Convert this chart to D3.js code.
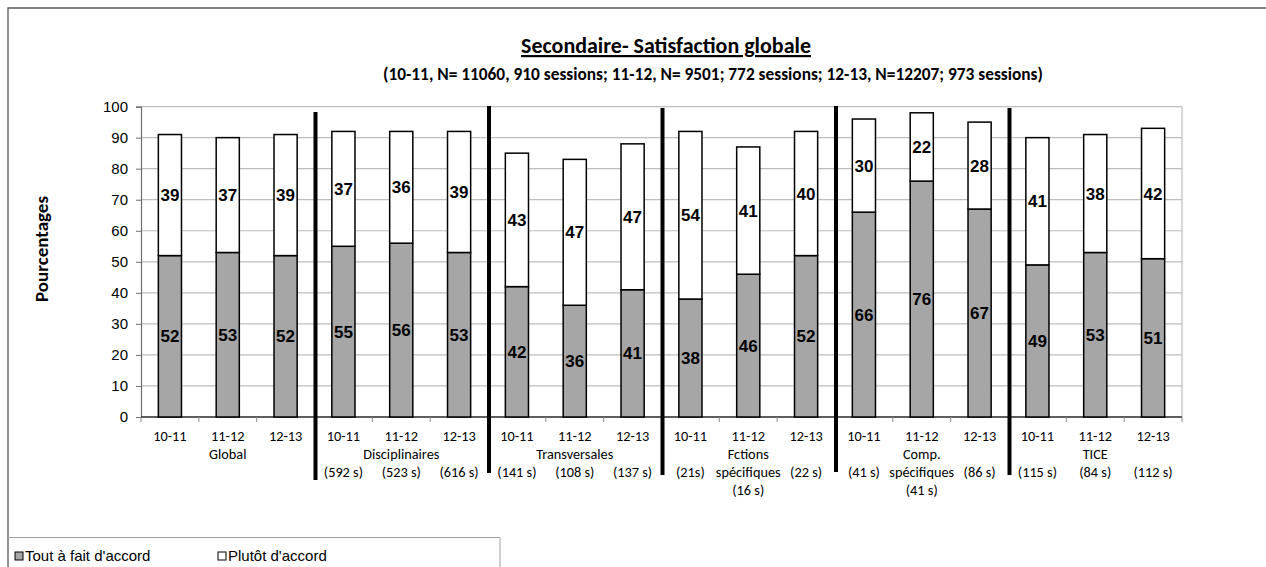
<!DOCTYPE html>
<html>
<head>
<meta charset="utf-8">
<script src="https://cdn.jsdelivr.net/npm/d3@7"></script>
<style>
  html, body { margin: 0; padding: 0; background: #fff; }
  svg { display: block; }
</style>
</head>
<body>
<svg id="chart" width="1266" height="567"></svg>
<script>
// Survey years for each bar, grouped by training type
const years = ["10-11", "11-12", "12-13"];
const groups = ["Global", "Disciplinaires", "Transversales", "Fctions spécifiques", "Comp. spécifiques", "TICE"];
// Group captions as they wrap under the axis
const groupLines = [["Global"], ["Disciplinaires"], ["Transversales"], ["Fctions", "spécifiques"], ["Comp.", "spécifiques"], ["TICE"]];
// Number of sessions per bar
const sessions = [
  "", "", "",
  "(592 s)", "(523 s)", "(616 s)",
  "(141 s)", "(108 s)", "(137 s)",
  "(21s)", "(16 s)", "(22 s)",
  "(41 s)", "(41 s)", "(86 s)",
  "(115 s)", "(84 s)", "(112 s)"
];
// Percentages: "Tout à fait d'accord" and "Plutôt d'accord"
const toutAFait = [52, 53, 52, 55, 56, 53, 42, 36, 41, 38, 46, 52, 66, 76, 67, 49, 53, 51];
const plutot    = [39, 37, 39, 37, 36, 39, 43, 47, 47, 54, 41, 40, 30, 22, 28, 41, 38, 42];
const seriesNames = ["Tout à fait d'accord", "Plutôt d'accord"];
const yTicks = [0, 10, 20, 30, 40, 50, 60, 70, 80, 90, 100];

const title = "Secondaire- Satisfaction globale";
const subtitle = "(10-11, N= 11060, 910 sessions; 11-12, N= 9501; 772 sessions; 12-13, N=12207; 973 sessions)";
const yTitle = "Pourcentages";

const svg = d3.select("#chart");
const plot = { left: 141, right: 1182, top: 106.6, bottom: 417 };
const calibri = "Carlito, 'Open Sans', Lato, sans-serif";
const arial = "'Liberation Sans', Arial, sans-serif";

// one row per bar
const rows = groups.flatMap((g, gi) => years.map((yr, yi) => {
  const i = gi * years.length + yi;
  return { id: i, group: gi, yi, year: yr, session: sessions[i], a: toutAFait[i], b: plutot[i] };
}));

const x = d3.scaleBand()
  .domain(rows.map(d => d.id))
  .range([plot.left, plot.right])
  .paddingInner(0.6)
  .paddingOuter(0.3);
const step = x.step();
const y = d3.scaleLinear().domain([0, 100]).range([plot.bottom, plot.top]);

// outer frame of the chart area
svg.append("path")
  .attr("d", "M8,567 L8,8 L1266,8")
  .attr("fill", "none").attr("stroke", "#5a5a5a").attr("stroke-width", 1.3);

// horizontal gridlines
svg.append("g").selectAll("line").data(yTicks).join("line")
  .attr("x1", plot.left).attr("x2", plot.right)
  .attr("y1", d => y(d)).attr("y2", d => y(d))
  .attr("stroke", "#bdbdbd").attr("stroke-width", 1.2);
// right edge of plot area
svg.append("line")
  .attr("x1", plot.right).attr("x2", plot.right)
  .attr("y1", y(100)).attr("y2", y(0))
  .attr("stroke", "#bdbdbd").attr("stroke-width", 1.2);

// y axis
const yAxis = svg.append("g")
  .attr("transform", `translate(${plot.left},0)`)
  .call(d3.axisLeft(y).tickValues(yTicks).tickSize(5).tickPadding(8));
yAxis.select(".domain").attr("stroke", "#6e6e6e").attr("stroke-width", 1.2);
yAxis.selectAll(".tick line").attr("stroke", "#6e6e6e");
yAxis.selectAll(".tick text")
  .attr("font-family", arial).attr("font-size", 15).attr("fill", "#000");

// x axis baseline with ticks at category boundaries
svg.append("line")
  .attr("x1", plot.left).attr("x2", plot.right)
  .attr("y1", y(0)).attr("y2", y(0))
  .attr("stroke", "#333").attr("stroke-width", 1.3);
const bounds = d3.range(rows.length + 1).map(i => plot.left + i * step);
svg.append("g").selectAll("line").data(bounds).join("line")
  .attr("x1", d => d).attr("x2", d => d)
  .attr("y1", y(0)).attr("y2", y(0) + 5)
  .attr("stroke", "#8a8a8a").attr("stroke-width", 1);

// stacked bars
const stack = d3.stack().keys(["a", "b"])(rows);
const fills = ["#a6a6a6", "#ffffff"];
const barG = svg.append("g");
stack.forEach((layer, li) => {
  barG.append("g").selectAll("rect").data(layer).join("rect")
    .attr("x", d => x(d.data.id))
    .attr("width", x.bandwidth())
    .attr("y", d => y(d[1]))
    .attr("height", d => y(d[0]) - y(d[1]))
    .attr("fill", fills[li])
    .attr("stroke", "#000").attr("stroke-width", 1.5);
});
// value labels centred in each segment
stack.forEach(layer => {
  barG.append("g").selectAll("text").data(layer).join("text")
    .attr("x", d => x(d.data.id) + x.bandwidth() / 2)
    .attr("y", d => y((d[0] + d[1]) / 2))
    .attr("dy", "0.36em")
    .attr("text-anchor", "middle")
    .attr("font-family", arial).attr("font-weight", "bold").attr("font-size", 17)
    .text(d => d[1] - d[0]);
});

// category labels (year / group / sessions)
const labG = svg.append("g")
  .attr("font-family", calibri).attr("font-size", 14.3).attr("fill", "#000")
  .attr("text-anchor", "middle");
const rowY = [441, 459, 477, 495];
labG.selectAll("text.yr").data(rows).join("text").attr("class", "yr")
  .attr("x", d => x(d.id) + x.bandwidth() / 2).attr("y", rowY[0]).text(d => d.year);
groupLines.forEach((lines, gi) => {
  const mid = rows[gi * years.length + 1];
  lines.forEach((t, li) => {
    labG.append("text")
      .attr("x", x(mid.id) + x.bandwidth() / 2)
      .attr("y", rowY[1 + li]).text(t);
  });
});
labG.selectAll("text.ss").data(rows.filter(d => d.session)).join("text").attr("class", "ss")
  .attr("x", d => x(d.id) + x.bandwidth() / 2)
  .attr("y", d => (d.yi === 1 && groupLines[d.group].length > 1) ? rowY[3] : rowY[2])
  .text(d => d.session);

// thick separators between training types
const sepTop = [112, 106, 108, 106, 108];
const sepBottom = [480, 473, 475, 472, 475];
svg.append("g").selectAll("line").data(d3.range(1, groups.length)).join("line")
  .attr("x1", d => plot.left + d * years.length * step + 1)
  .attr("x2", d => plot.left + d * years.length * step + 1)
  .attr("y1", (d, i) => sepTop[i]).attr("y2", (d, i) => sepBottom[i])
  .attr("stroke", "#000").attr("stroke-width", 4);

// fit a text element to a given width by adjusting its font size
function fitWidth(sel, w) {
  const fs = parseFloat(sel.attr("font-size"));
  const len = sel.node().getComputedTextLength();
  sel.attr("font-size", fs * w / len);
}

// titles
const t1 = svg.append("text")
  .attr("x", 666).attr("y", 53).attr("text-anchor", "middle")
  .attr("font-family", calibri).attr("font-weight", "bold").attr("font-size", 16)
  .attr("text-decoration", "underline").text(title);
fitWidth(t1, 290);
const t2 = svg.append("text")
  .attr("x", 713).attr("y", 80).attr("text-anchor", "middle")
  .attr("font-family", calibri).attr("font-weight", "bold").attr("font-size", 12)
  .text(subtitle);
fitWidth(t2, 660);
const t3 = svg.append("text")
  .attr("transform", "translate(48,249) rotate(-90)").attr("text-anchor", "middle")
  .attr("font-family", calibri).attr("font-weight", "bold").attr("font-size", 15)
  .text(yTitle);
fitWidth(t3, 106);

// legend
svg.append("path")
  .attr("d", "M8,537.5 L500,537.5 L500,567")
  .attr("fill", "none").attr("stroke", "#a0a0a0").attr("stroke-width", 1);
const legX = [15, 218];
const leg = svg.append("g").selectAll("g").data(seriesNames).join("g")
  .attr("transform", (d, i) => `translate(${legX[i]},0)`);
leg.append("rect").attr("x", 0).attr("y", 552).attr("width", 8).attr("height", 8)
  .attr("fill", (d, i) => fills[i]).attr("stroke", "#000").attr("stroke-width", 1);
leg.append("text").attr("x", 10).attr("y", 561)
  .attr("font-family", arial).attr("font-size", 15).text(d => d);
</script>
</body>
</html>
